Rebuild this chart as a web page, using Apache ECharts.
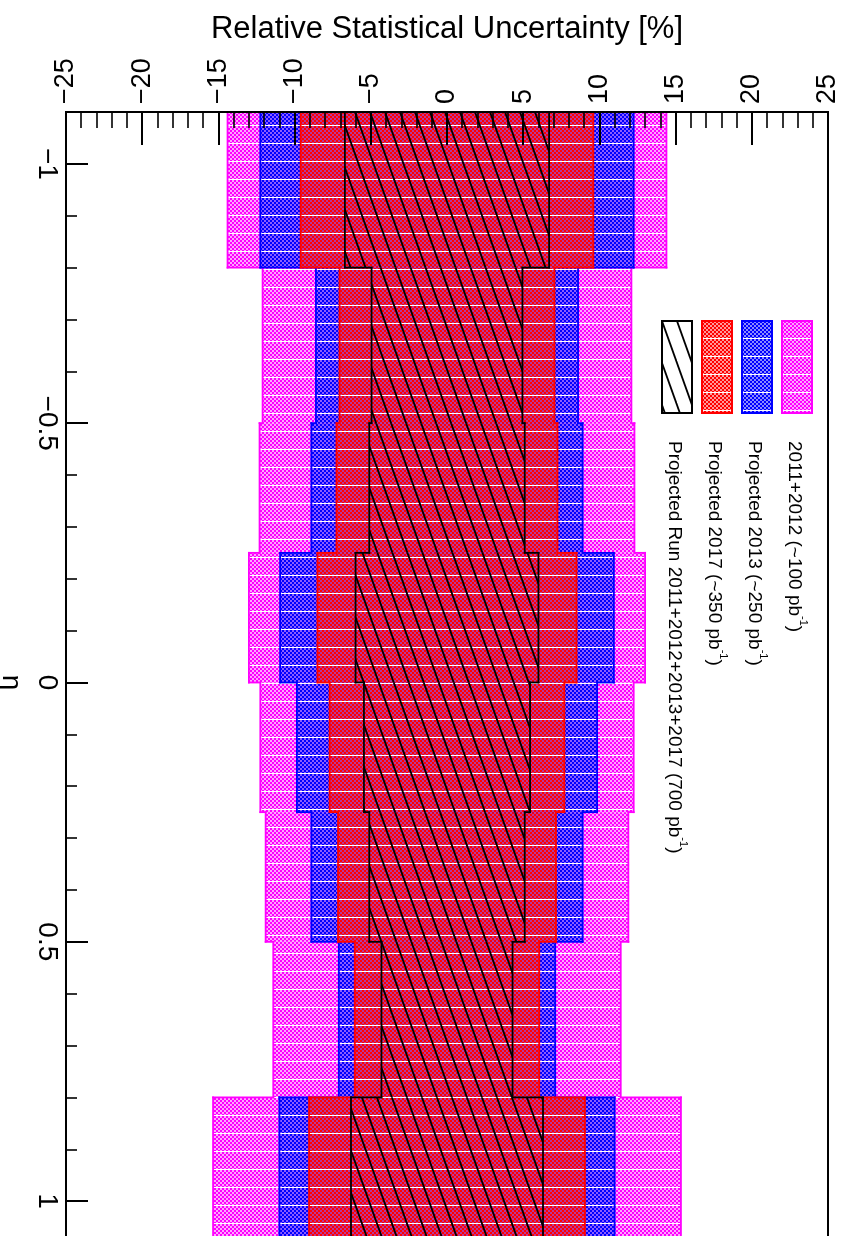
<!DOCTYPE html>
<html>
<head>
<meta charset="utf-8">
<script src="https://cdn.jsdelivr.net/npm/echarts@6/dist/echarts.min.js"></script>
<style>
  html, body { margin: 0; padding: 0; background: #fff; }
  #chart { width: 846px; height: 1236px; }
</style>
</head>
<body>
<div id="chart"></div>
<script>
// eta bin edges (9 edges -> 8 bins)
const etaEdges = [-1.1, -0.8, -0.5, -0.25, 0, 0.25, 0.5, 0.8, 1.1];

// relative statistical uncertainty per eta bin, in percent (band drawn as +/- value)
const unc2011_2012 = [14.4, 12.1, 12.3, 13.0, 12.25, 11.9, 11.4, 15.35];
const uncProj2013  = [12.25, 8.6, 8.9, 10.95, 9.85, 8.9, 7.1, 11.0];
const uncProj2017  = [9.6, 7.05, 7.25, 8.5, 7.7, 7.15, 6.05, 9.05];
const uncCombined  = [6.7, 4.95, 5.1, 6.0, 5.45, 5.1, 4.3, 6.3];

const uncTicks = [-25, -20, -15, -10, -5, 0, 5, 10, 15, 20, 25];

const seriesLabels = [
  { text: '2011+2012 (~100 pb', sup: '-1', tail: ')' },
  { text: 'Projected 2013 (~250 pb', sup: '-1', tail: ')' },
  { text: 'Projected 2017 (~350 pb', sup: '-1', tail: ')' },
  { text: 'Projected Run 2011+2012+2013+2017 (700 pb', sup: '-1', tail: ')' }
];

const FONT = 'Liberation Sans, Arial, Helvetica, sans-serif';

// small repeating fill patterns: 2px checker, one transparent seam row per tile
function checkerPattern(color, gapAlpha) {
  const c = document.createElement('canvas');
  c.width = 4; c.height = 18;
  const g = c.getContext('2d');
  g.fillStyle = color;
  for (let y = 0; y < 17; y++) {
    for (let x = 0; x < 4; x++) {
      const on = (((x >> 1) + (y >> 1) + 1) % 2) === 0;
      g.globalAlpha = on ? 1 : gapAlpha;
      g.fillRect(x, y, 1, 1);
    }
  }
  return { image: c, repeat: 'repeat' };
}
function hatchPattern() {
  const w = 15, h = 42;
  const c = document.createElement('canvas');
  c.width = w; c.height = h;
  const g = c.getContext('2d');
  g.strokeStyle = '#000';
  g.lineWidth = 1.8;
  [-w, 0, w].forEach(function (x0) {
    g.beginPath();
    g.moveTo(x0 - w * 0.2, -h * 0.2);
    g.lineTo(x0 + w * 1.2, h * 1.2);
    g.stroke();
  });
  return { image: c, repeat: 'repeat' };
}

const styles = [
  { fill: checkerPattern('#ff00ff', 0.35), stroke: '#ff00ff' },
  { fill: checkerPattern('#0000ff', 0.45), stroke: '#0000ff' },
  { fill: checkerPattern('#ff0000', 0.4), stroke: '#ff0000' },
  { fill: hatchPattern(), stroke: '#000000' }
];
const bandValues = [unc2011_2012, uncProj2013, uncProj2017, uncCombined];

function binData(values) {
  return values.map(function (v, i) { return [etaEdges[i], etaEdges[i + 1], v]; });
}

// each bin: filled rectangle from -v to +v, outline drawn as a stepped contour
function bandRenderer(values, st) {
  return function (params, api) {
    const i = params.dataIndex;
    const lo = api.value(0), hi = api.value(1), v = api.value(2);
    const tl = api.coord([-v, lo]);
    const br = api.coord([v, hi]);
    const ls = { stroke: st.stroke, lineWidth: 1.8, lineCap: 'square' };
    const children = [
      { type: 'rect', shape: { x: tl[0], y: tl[1], width: br[0] - tl[0], height: br[1] - tl[1] },
        style: { fill: st.fill } },
      { type: 'line', shape: { x1: tl[0], y1: tl[1], x2: tl[0], y2: br[1] }, style: ls },
      { type: 'line', shape: { x1: br[0], y1: tl[1], x2: br[0], y2: br[1] }, style: ls }
    ];
    if (i > 0) {
      const pv = values[i - 1];
      const a1 = api.coord([-pv, lo]), b1 = api.coord([-v, lo]);
      const a2 = api.coord([pv, lo]), b2 = api.coord([v, lo]);
      children.push({ type: 'line', shape: { x1: a1[0], y1: a1[1], x2: b1[0], y2: b1[1] }, style: ls });
      children.push({ type: 'line', shape: { x1: a2[0], y1: a2[1], x2: b2[0], y2: b2[1] }, style: ls });
    }
    return { type: 'group', children: children };
  };
}

function minus(v) { return v < 0 ? '\u2212' + Math.abs(v) : String(v); }

const series = bandValues.map(function (vals, k) {
  return {
    type: 'custom',
    name: seriesLabels[k].text,
    renderItem: bandRenderer(vals, styles[k]),
    encode: { x: 2, y: [0, 1] },
    data: binData(vals),
    clip: true,
    z: 2 + k
  };
});

// legend: pattern boxes and rotated labels
const legendX = [782, 742, 702, 662];
const legendGraphics = [];
seriesLabels.forEach(function (lab, k) {
  legendGraphics.push({
    type: 'rect',
    x: legendX[k], y: 321,
    shape: { x: 0, y: 0, width: 30, height: 92 },
    style: { fill: styles[k].fill, stroke: styles[k].stroke, lineWidth: 2 }
  });
  legendGraphics.push({
    type: 'text',
    x: legendX[k] + 15, y: 441,
    rotation: -Math.PI / 2,
    style: {
      text: '{t|' + lab.text + '}{s|' + lab.sup + '}{t|' + lab.tail + '}',
      align: 'left',
      verticalAlign: 'middle',
      rich: {
        t: { fontSize: 19, fontFamily: FONT, fill: '#000', lineHeight: 24, verticalAlign: 'bottom' },
        s: { fontSize: 11, fontFamily: FONT, fill: '#000', lineHeight: 24, verticalAlign: 'top' }
      }
    }
  });
});

const chart = echarts.init(document.getElementById('chart'));
chart.setOption({
  backgroundColor: '#fff',
  animation: false,
  grid: {
    left: 66, right: 18, top: 112, height: 1141,
    show: true, borderColor: '#000', borderWidth: 2,
    containLabel: false, outerBoundsMode: 'none'
  },
  xAxis: {
    type: 'value', position: 'top',
    min: uncTicks[0], max: uncTicks[uncTicks.length - 1], interval: 5,
    name: 'Relative Statistical Uncertainty [%]',
    nameLocation: 'middle', nameGap: 67,
    nameTextStyle: { fontSize: 31, fontFamily: FONT, color: '#000' },
    axisLine: { show: true, onZero: false, lineStyle: { color: '#000', width: 2 } },
    axisTick: { show: true, inside: true, length: 33, lineStyle: { color: '#000', width: 2 } },
    minorTick: { show: true, splitNumber: 5, length: 16, lineStyle: { color: '#000', width: 1.6 } },
    splitLine: { show: false },
    axisLabel: { rotate: -90, margin: 8, fontSize: 27, fontFamily: FONT, color: '#000', formatter: minus },
    z: 10
  },
  yAxis: {
    type: 'value', inverse: true,
    min: etaEdges[0], max: etaEdges[etaEdges.length - 1], splitNumber: 5,
    name: '\u03b7', nameLocation: 'middle', nameGap: 36, nameRotate: -90,
    nameTextStyle: { fontSize: 28, fontFamily: FONT, color: '#000' },
    axisLine: { show: true, onZero: false, lineStyle: { color: '#000', width: 2 } },
    axisTick: { show: true, inside: true, length: 22, lineStyle: { color: '#000', width: 2 } },
    minorTick: { show: true, splitNumber: 5, length: 11, lineStyle: { color: '#000', width: 1.6 } },
    splitLine: { show: false },
    axisLabel: { rotate: -90, margin: 5, fontSize: 28, fontFamily: FONT, color: '#000',
                 showMinLabel: false, showMaxLabel: false, formatter: minus },
    z: 10
  },
  graphic: legendGraphics,
  series: series
});
</script>
</body>
</html>
